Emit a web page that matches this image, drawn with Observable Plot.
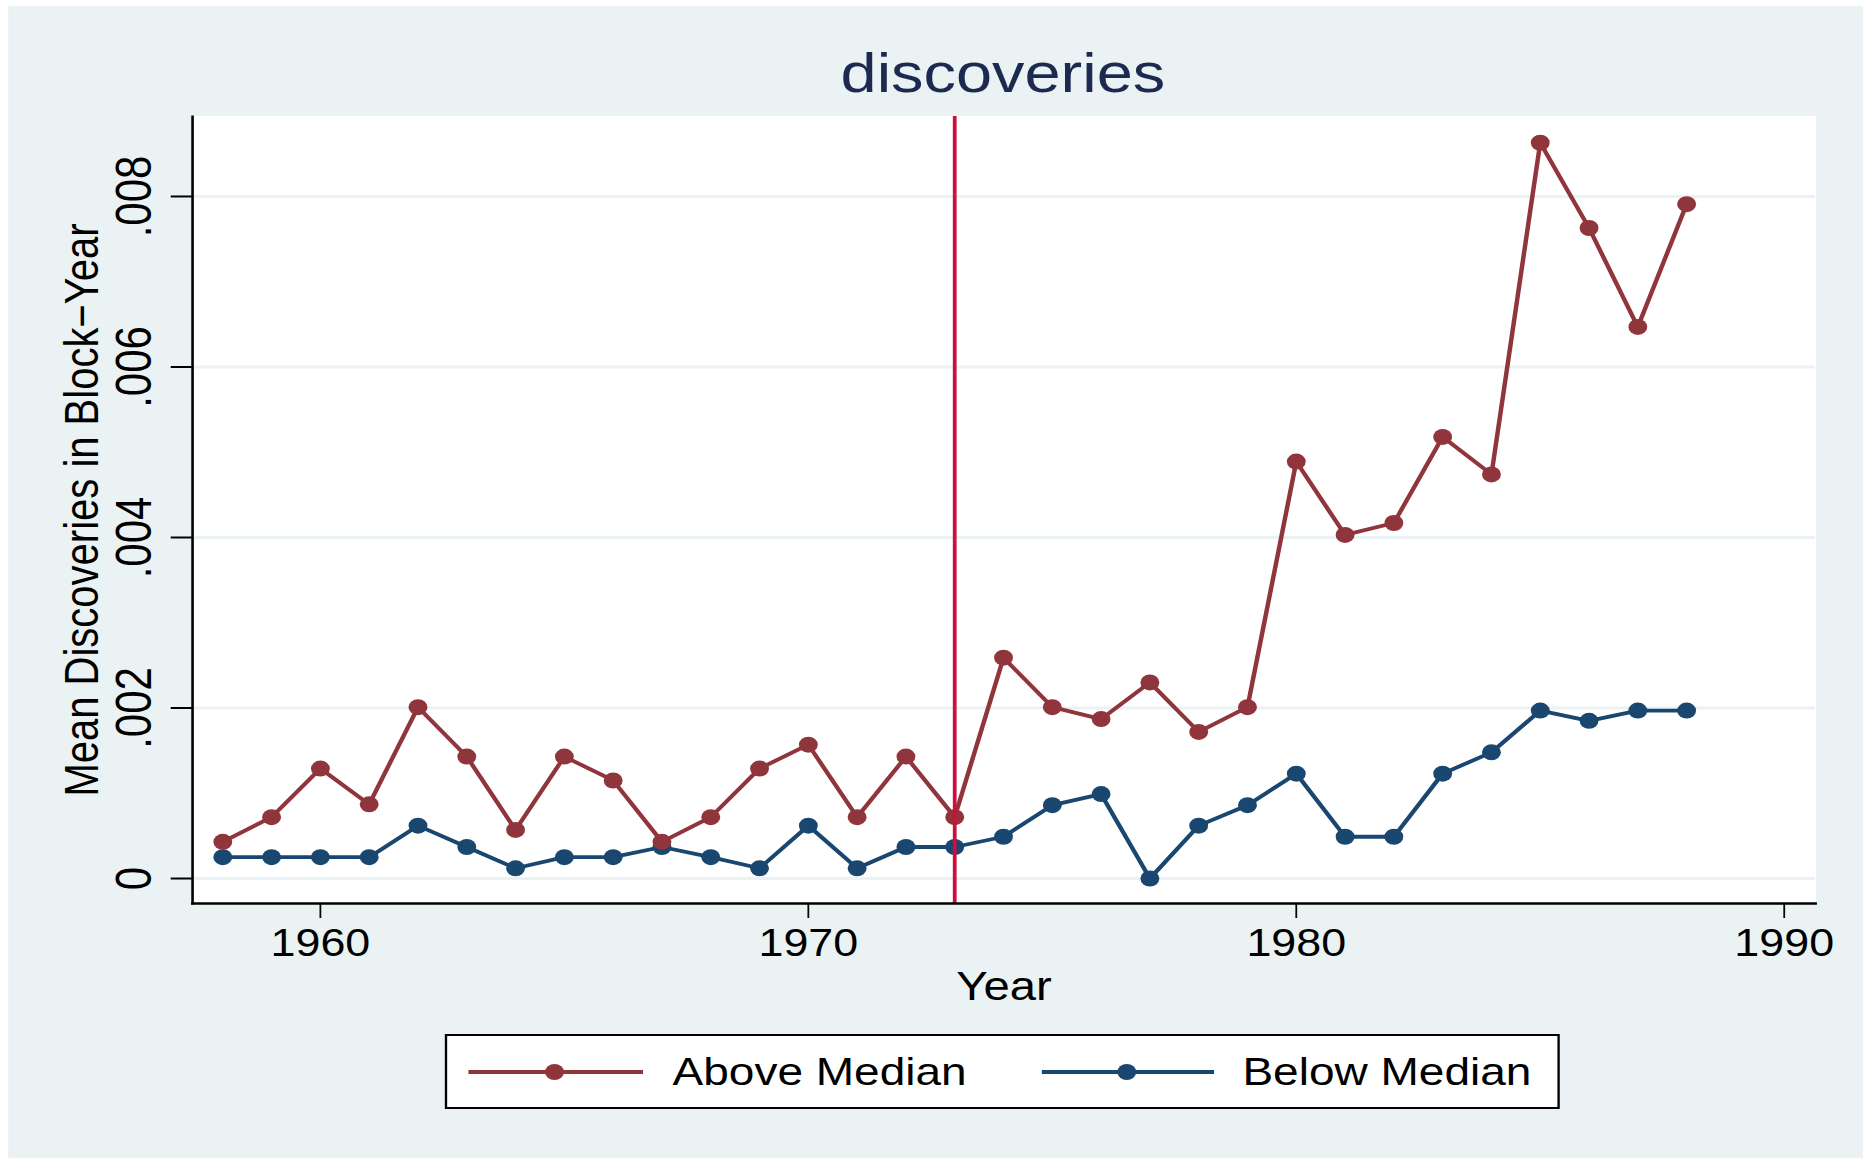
<!DOCTYPE html>
<html>
<head>
<meta charset="utf-8">
<script src="https://cdn.jsdelivr.net/npm/d3@7"></script>
<script src="https://cdn.jsdelivr.net/npm/@observablehq/plot@0.6"></script>
<style>
  html, body { margin: 0; padding: 0; background: white; }
  #page { position: relative; width: 1863px; height: 1158px; overflow: hidden; background: white; font-family: "Liberation Sans", Arial, sans-serif; }
  #stage { position: absolute; left: 0; top: 0; width: 1579px; height: 1158px; transform: scaleX(1.17986); transform-origin: 0 0; }
  #bg { position: absolute; left: 6.8px; top: 6px; right: 0; bottom: 0; background: #eaf2f3; }
  #title { position: absolute; left: 450px; width: 800px; top: 46px; text-align: center; font-size: 55px; line-height: 55px; color: #1c2a52; }
  #chart { position: absolute; left: 0; top: 0; }
  #legend { position: absolute; left: 377px; top: 1034px; width: 945px; height: 75px; box-sizing: border-box; border: 2px solid black; background: white; }
  .lline { position: absolute; top: 34px; height: 4px; }
  .lmark { position: absolute; top: 28px; width: 16px; height: 16px; border-radius: 50%; }
  .ltext { position: absolute; top: 0; height: 71px; line-height: 71px; font-size: 39px; color: black; white-space: nowrap; }
</style>
</head>
<body>
<div id="page">
  <div id="stage">
    <div id="bg"></div>
    <div id="title"></div>
    <div id="chart"></div>
    <div id="legend"></div>
  </div>
</div>
<script>
// ---- data ----
const titleText = "discoveries";
const xTitle = "Year";
const yTitle = "Mean Discoveries in Block\u2212Year";
const seriesNames = ["Above Median", "Below Median"];
const years = [1958,1959,1960,1961,1962,1963,1964,1965,1966,1967,1968,1969,1970,1971,1972,1973,1974,1975,1976,1977,1978,1979,1980,1981,1982,1983,1984,1985,1986,1987,1988];
const aboveMedian = [0.00043,0.00072,0.00129,0.00087,0.00201,0.00143,0.00057,0.00143,0.00115,0.00043,0.00072,0.00129,0.00157,0.00072,0.00143,0.00072,0.00259,0.00201,0.00187,0.00230,0.00172,0.00201,0.00489,0.00403,0.00417,0.00518,0.00474,0.00863,0.00763,0.00647,0.00791];
const belowMedian = [0.00025,0.00025,0.00025,0.00025,0.00062,0.00037,0.00012,0.00025,0.00025,0.00037,0.00025,0.00012,0.00062,0.00012,0.00037,0.00037,0.00049,0.00086,0.00099,0.00000,0.00062,0.00086,0.00123,0.00049,0.00049,0.00123,0.00148,0.00197,0.00185,0.00197,0.00197];
const xTicks = [1960, 1970, 1980, 1990];
const yTicks = [0, 0.002, 0.004, 0.006, 0.008];
const yTickLabels = ["0", ".002", ".004", ".006", ".008"];
const eventYear = [1973];

// ---- styles ----
const maroon = "#90353b";
const navy = "#1a476f";
const crimson = "#cc0f3d";
const gridColor = "#eaf2f3";

const aboveRows = years.map((y, i) => ({year: y, value: aboveMedian[i]}));
const belowRows = years.map((y, i) => ({year: y, value: belowMedian[i]}));

document.getElementById("title").textContent = titleText;

const chart = Plot.plot({
  width: 1579,
  height: 1030,
  marginLeft: 162.7,
  marginRight: 40.8,
  marginTop: 116,
  marginBottom: 127,
  x: {domain: [1957.38, 1990.64]},
  y: {domain: [-0.000293, 0.008938]},
  style: {background: "transparent", fontFamily: "'Liberation Sans', Arial, sans-serif", fontSize: "38px", color: "black", overflow: "visible"},
  marks: [
    Plot.frame({fill: "white", stroke: "white"}),
    Plot.ruleY(yTicks, {stroke: gridColor, strokeWidth: 3}),
    Plot.line(belowRows, {x: "year", y: "value", stroke: navy, strokeWidth: 3.8}),
    Plot.dot(belowRows, {x: "year", y: "value", r: 8, fill: navy}),
    Plot.line(aboveRows, {x: "year", y: "value", stroke: maroon, strokeWidth: 3.8}),
    Plot.dot(aboveRows, {x: "year", y: "value", r: 8, fill: maroon}),
    Plot.ruleX(eventYear, {stroke: crimson, strokeWidth: 3.2}),
    Plot.axisX({ticks: xTicks, tickFormat: d => String(d), tickSize: 15, tickPadding: 11, label: null, strokeWidth: 1.5, fontSize: 38}),
    Plot.axisY({ticks: yTicks, tickFormat: () => "", tickSize: 18, label: null, strokeWidth: 2}),
    Plot.text(yTicks, {y: d => d, text: (d, i) => yTickLabels[i], frameAnchor: "left", textAnchor: "middle", dx: -49, rotate: -90, fontSize: 42, fill: "black"}),
    Plot.text([yTitle], {text: d => d, frameAnchor: "left", textAnchor: "middle", dx: -93, rotate: -90, fontSize: 40, fill: "black"}),
    Plot.text([xTitle], {text: d => d, frameAnchor: "bottom", dy: 96, fontSize: 40, fill: "black"}),
    Plot.frame({anchor: "left", stroke: "black", strokeWidth: 2.2}),
    Plot.frame({anchor: "bottom", stroke: "black", strokeWidth: 2.5})
  ]
});
document.getElementById("chart").appendChild(chart);

// ---- legend ----
const legend = document.getElementById("legend");
const legendItems = [
  {name: seriesNames[0], color: maroon, lineLeft: 18, lineWidth: 148, markLeft: 83, textLeft: 191},
  {name: seriesNames[1], color: navy, lineLeft: 504, lineWidth: 146, markLeft: 568, textLeft: 674}
];
for (const it of legendItems) {
  const l = document.createElement("div");
  l.className = "lline";
  l.style.left = it.lineLeft + "px";
  l.style.width = it.lineWidth + "px";
  l.style.background = it.color;
  legend.appendChild(l);
  const m = document.createElement("div");
  m.className = "lmark";
  m.style.left = it.markLeft + "px";
  m.style.background = it.color;
  legend.appendChild(m);
  const t = document.createElement("div");
  t.className = "ltext";
  t.style.left = it.textLeft + "px";
  t.textContent = it.name;
  legend.appendChild(t);
}
</script>
</body>
</html>
